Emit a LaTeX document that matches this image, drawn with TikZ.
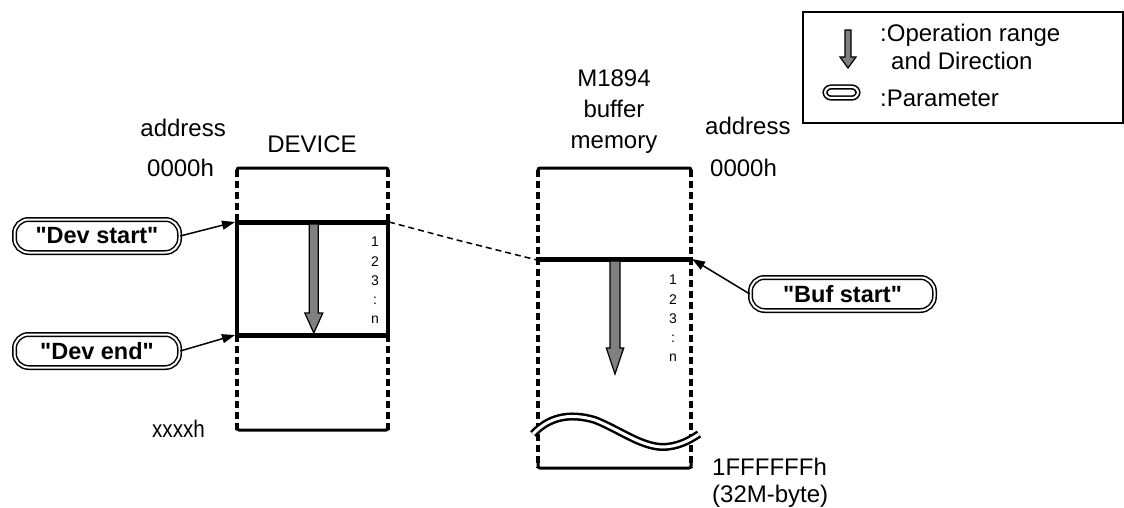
\documentclass[tikz,border=0pt]{standalone}
\usepackage{fontspec}
\setmainfont[Ligatures=TeXOff]{Liberation Sans}
\usetikzlibrary{arrows.meta}
\tikzset{
  txt/.style={inner sep=0pt, font=\fontsize{24}{29}\selectfont},
  param/.style={draw, double, double distance=2pt, line width=1.5pt, rounded corners=14pt,
    inner sep=0pt, font=\fontsize{23.5}{28}\selectfont\bfseries},
  colline/.style={line width=4pt, dash pattern=on 7pt off 4pt},
  edgeline/.style={line width=3pt, rounded corners=2pt},
  thickbar/.style={line width=5pt},
  ptr/.style={line width=1.5pt, -{Triangle[length=13pt,width=9pt]}},
  nums/.style={inner sep=0pt, align=center, font=\fontsize{14}{19.2}\selectfont},
  oparrow/.style={fill=black!50, draw=black, line width=1.2pt, line join=miter},
  waveline/.style={line width=2.5pt, double, double distance=3pt},
  linkline/.style={line width=1.5pt, dash pattern=on 6pt off 4pt},
}
\newcommand\opArrow[6]{% x, ytop, yhead, ytip, half shaft, half head
  \draw[oparrow] (#1-#5,#2) -- (#1+#5,#2) -- (#1+#5,#3) -- (#1+#6,#3) -- (#1,#4)
    -- (#1-#6,#3) -- (#1-#5,#3) -- cycle;}
\begin{document}
\begin{tikzpicture}[x=1pt,y=-1pt]
\useasboundingbox (0,0) rectangle (1124,508);

% ---------- legend ----------
\draw[line width=1.5pt] (803,12) rectangle (1123,123);
\opArrow{848}{30}{57}{68}{3}{8}
\node[draw, double, double distance=2pt, line width=1.6pt, rounded corners=6pt,
      minimum width=33pt, minimum height=11pt, inner sep=0pt] (legparam) at (841.5,92.5) {};
\node[txt, anchor=base west] (leg1) at (880,42) {:Operation range};
\node[txt, anchor=base west] (leg2) at (891,70) {and Direction};
\node[txt, anchor=base west] (leg3) at (880,107) {:Parameter};

% ---------- device column ----------
\draw[colline] (237,170) -- (237,430);
\draw[colline] (388,170) -- (388,430);
\draw[edgeline] (237,174) -- (237,168) -- (388,168) -- (388,174);
\draw[edgeline] (237,424) -- (237,430) -- (388,430) -- (388,424);
\draw[line width=4pt] (237,222) -- (237,335);
\draw[line width=4pt] (388,222) -- (388,335);
\coordinate (dsL) at (235,222);
\coordinate (dsR) at (389,222);
\coordinate (deL) at (235,335);
\draw[thickbar] (235,222) -- (390,222);
\draw[thickbar] (235,335) -- (390,335);
\opArrow{313.8}{224}{313}{333}{4.5}{9}
\node[nums, anchor=north] (devnums) at (375,237) {1\\2\\3\\:\\n};

% ---------- buffer column ----------
\draw[colline] (538,170) -- (538,468);
\draw[colline] (691,170) -- (691,468);
\draw[edgeline] (538,174) -- (538,168) -- (691,168) -- (691,174);
\draw[edgeline] (538,462) -- (538,468) -- (691,468) -- (691,462);
\coordinate (bsL) at (537,260);
\coordinate (bsR) at (692,259);
\draw[thickbar] (536,259) -- (693,259);
\opArrow{615}{261}{348}{374}{5}{8.7}
\node[nums, anchor=north] (bufnums) at (673,275) {1\\2\\3\\:\\n};
\draw[waveline] (533,434) .. controls (548,418) and (568,412) .. (595,420)
   .. controls (620,430) and (640,446) .. (662,447)
   .. controls (678,447) and (690,440) .. (699,434);

% ---------- dashed link ----------
\coordinate (bend) at (457,240);
\draw[linkline] (dsR) -- (bend) -- (bsL);

% ---------- texts ----------
\node[txt, anchor=base east] (addrL) at (226,136) {address};
\node[txt, anchor=base west] (zeroL) at (147,176) {0000h};
\node[txt, anchor=base] (devlabel) at (312,153) {DEVICE};
\node[txt, anchor=base] (bufA) at (614,87) {M1894};
\node[txt, anchor=base] (bufB) at (614,118) {buffer};
\node[txt, anchor=base] (bufC) at (614,149) {memory};
\node[txt, anchor=base west] (addrR) at (705,135) {address};
\node[txt, anchor=base west] (zeroR) at (710,176) {0000h};
\node[txt, anchor=base west, xscale=0.86] (endL) at (152,437) {xxxxh};
\node[txt, anchor=base west] (endR1) at (712,475) {1FFFFFFh};
\node[txt, anchor=base west] (endR2) at (712,502) {(32M-byte)};

% ---------- parameters ----------
\node[param, minimum width=165pt, minimum height=33pt] (devstart) at (97,236) {"Dev start"};
\node[param, minimum width=165pt, minimum height=33pt] (devend) at (97,351) {"Dev end"};
\node[param, minimum width=184pt, minimum height=33pt] (bufstart) at (842.5,294) {"Buf start"};

\draw[ptr] (devstart.east) -- (dsL);
\draw[ptr] (devend.east) -- (deL);
\draw[ptr] (bufstart.west) -- (bsR);
\end{tikzpicture}
\end{document}
